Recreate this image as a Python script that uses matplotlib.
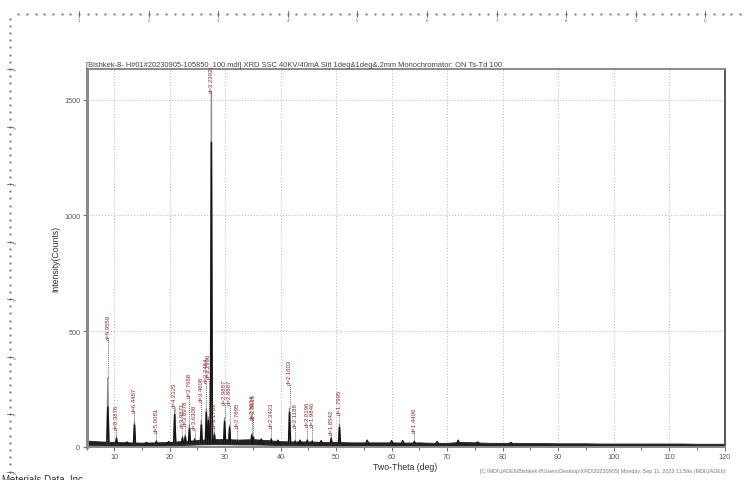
import numpy as np
import matplotlib.pyplot as plt
from matplotlib.ticker import MultipleLocator

plt.rcParams['font.family'] = ['Liberation Sans', 'DejaVu Sans']

# peaks with d-spacing labels
peak_2theta = [8.85, 10.40, 13.65, 17.60, 20.90, 22.30, 22.80, 23.56, 24.50, 25.70, 26.60, 27.00,
               27.51, 28.06, 29.90, 30.80, 32.20, 34.80, 35.10, 38.30, 41.60, 42.60, 44.80, 45.70,
               49.10, 50.60, 64.10]
peak_raw = [300, 45, 108, 28, 160, 45, 52, 95, 38, 115, 165, 130,
            1534, 62, 125, 95, 32, 58, 45, 38, 168, 28, 32, 28,
            42, 98, 26]
peak_smooth = [172, 35, 95, 22, 140, 38, 44, 80, 32, 95, 150, 115,
               1315, 52, 110, 85, 27, 50, 40, 32, 150, 24, 27, 24,
               36, 85, 22]
peak_d = ["d=9.9559", "d=8.3876", "d=6.4487", "d=5.0081", "d=4.2125", "d=3.9871", "d=3.8978",
          "d=3.7668", "d=3.6308", "d=3.4608", "d=3.3484", "d=3.2996", "d=3.2392", "d=3.1783",
          "d=2.9887", "d=2.8887", "d=2.7895", "d=2.5634", "d=2.5616", "d=2.3423", "d=2.1603",
          "d=2.1188", "d=2.0196", "d=1.9840", "d=1.8542", "d=1.7995", "d=1.4406"]
label_y = [465, 78, 150, 65, 172, 86, 95, 215, 78, 198, 280, 300,
           1534, 86, 185, 185, 86, 120, 125, 86, 270, 86, 90, 90,
           56, 142, 65]

# small unlabelled reflections
minor_2theta = [12.3, 15.8, 19.8, 36.5, 39.5, 43.5, 47.3, 55.6, 60.0, 62.0, 68.2, 72.0, 75.5, 81.5]
minor_counts = [22, 20, 24, 35, 30, 30, 28, 30, 28, 28, 24, 30, 22, 20]

# background noise envelope
bg_2theta = [5, 7.5, 10, 12.5, 15, 17.5, 20, 22.5, 25, 27.5, 30, 32.5, 35, 37.5, 40, 42.5, 45, 47.5,
             50, 52.5, 55, 57.5, 60, 62.5, 65, 67.5, 70, 72.5, 75, 77.5, 80, 82.5, 85, 87.5, 90,
             92.5, 95, 97.5, 100, 102.5, 105, 107.5, 110, 112.5, 115, 117.5, 120]
bg_low = [9, 7, 6, 6, 5, 6, 7, 9, 11, 12, 12, 11, 11, 10, 8, 7, 7, 6, 6, 6, 5, 5, 5, 5, 5, 4, 4, 5,
          5, 4, 4, 4, 4, 4, 3, 3, 3, 3, 3, 3, 3, 3, 3, 3, 3, 3, 3]
bg_high = [28, 24, 22, 20, 19, 20, 22, 26, 30, 34, 34, 32, 34, 30, 25, 24, 24, 22, 22, 20, 20, 20,
           20, 19, 20, 18, 18, 22, 20, 18, 18, 18, 17, 17, 16, 16, 16, 15, 15, 15, 15, 15, 15, 15,
           14, 14, 14]

title = ("[Bishkek-8- H#01#20230905-105850_100.mdi] XRD SSC 40KV/40mA Slit 1deg&1deg&.2mm "
         "Monochromator: ON Ts-Td 100")
footer = ("[C:\\MDI\\JADE6\\Bishkek-8\\Users\\Desktop\\XRD\\20230905] "
          "Monday, Sep 11, 2023 11:59a (MDI/JADE6)")


def spikes(xs, hs, base=14, w=0.18):
    px, py = [], []
    for x, h in zip(xs, hs):
        px += [x - w, x, x + w, np.nan]
        py += [base, h, base, np.nan]
    return px, py


W, H = 744, 481
fig = plt.figure(figsize=(W / 100, H / 100), dpi=100)

# page rulers of the print preview
rul = fig.add_axes([0, 0, 1, 1], zorder=-1)
rul.set_xlim(0, W)
rul.set_ylim(H, 0)
rul.axis('off')
x_inch, x0 = 69.6, 9.4
y_inch, y0 = 57.5, 12.5
xd = x0 + np.arange(1, 85) * x_inch / 8
rul.plot(xd, np.full_like(xd, 15), ls='none', marker='.', ms=1.2, color='#777')
for k in range(1, 11):
    xx = x0 + k * x_inch
    rul.plot([xx, xx], [12, 18], color='#666', lw=0.6)
    rul.text(xx, 19, str(k % 10), fontsize=3.2, color='#666', ha='center', va='top')
yd = y0 + np.arange(1, 66) * y_inch / 8
rul.plot(np.full_like(yd, 10), yd, ls='none', marker='.', ms=1.2, color='#777')
for k in range(1, 9):
    yy = y0 + k * y_inch
    rul.plot([7, 13], [yy, yy], color='#666', lw=0.6)
    rul.text(14, yy, str(k), fontsize=3.2, color='#666', ha='left', va='center', rotation=90)

ax = fig.add_axes([86.5 / W, 1 - 448 / H, 638 / W, 378 / H])
ax.set_xlim(5, 120)
ax.set_ylim(0, 1632)

# noise band and diffraction peaks
ax.fill_between(bg_2theta, bg_low, bg_high, color='#222', lw=0.6, edgecolor='#222', zorder=2)
rx, ry = spikes(peak_2theta, peak_raw)
ax.plot(rx, ry, color='#8c8c8c', lw=1.0, zorder=3)
sx, sy = spikes(peak_2theta, peak_smooth)
ax.plot(sx, sy, color='#151515', lw=1.1, zorder=4)
mx, my = spikes(minor_2theta, minor_counts, w=0.3)
ax.plot(mx, my, color='#151515', lw=0.9, zorder=4)

for x, h, ly, d in zip(peak_2theta, peak_raw, label_y, peak_d):
    if ly > h:
        ax.plot([x, x], [h, ly], color='#333', lw=0.6, ls=(0, (1, 1.5)), zorder=3)
    ax.text(x, ly, d, rotation=90, ha='center', va='bottom', fontsize=4.3, color='#8b2a2a', zorder=5)

ax.xaxis.set_major_locator(MultipleLocator(10))
ax.xaxis.set_minor_locator(MultipleLocator(5))
ax.yaxis.set_major_locator(MultipleLocator(500))
ax.grid(True, which='major', color='#b5b5b5', lw=0.7, ls=(0, (1, 2)))
ax.tick_params(which='both', direction='out', colors='#555', labelsize=5.2, length=3, width=0.6, pad=1.5)
ax.tick_params(which='minor', length=2)
for name, sp in ax.spines.items():
    sp.set_color('#8a8a8a')
    sp.set_linewidth(1.4)
ax.spines['left'].set_linewidth(2.2)
ax.spines['right'].set_color('#555')

ax.set_xlabel('Two-Theta (deg)', fontsize=6.3, color='#333', labelpad=1)
ax.set_ylabel('Intensity(Counts)', fontsize=6.3, color='#333', labelpad=3)
ax.text(0, 1.002, title, transform=ax.transAxes, fontsize=5.4, color='#444', ha='left', va='bottom')

fig.text(2 / W, 1 - 479.5 / H, 'Materials Data, Inc.', fontsize=7, color='#333', ha='left', va='center')
fig.text(480 / W, 1 - 472 / H, footer, fontsize=3.9, color='#777', ha='left', va='center')

fig.savefig('out.png', dpi=100)
